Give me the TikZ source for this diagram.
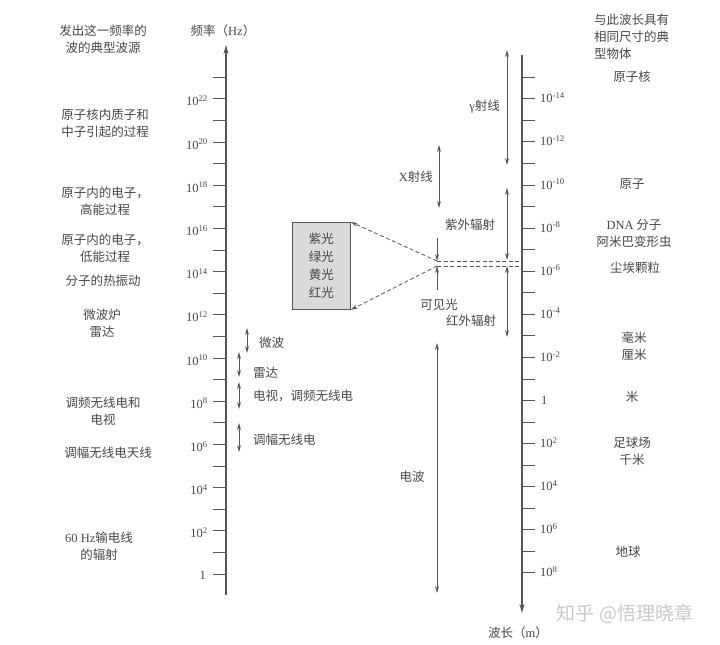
\documentclass[tikz,border=0pt]{standalone}
\usepackage{fontspec}
\setmainfont{Liberation Serif}
\newfontfamily\cjk{Noto Sans CJK SC}
\usetikzlibrary{arrows.meta}
\definecolor{ink}{HTML}{555555}
\definecolor{txt}{HTML}{474747}
\definecolor{boxfill}{HTML}{DADADA}
\definecolor{wm}{HTML}{C8C8C8}
\begin{document}
\begin{tikzpicture}[x=1pt,y=-1pt,
  lbl/.style={font=\cjk\fontsize{12.5}{17}\selectfont, text=txt, inner sep=0pt, align=center},
  lblL/.style={lbl, align=left},
  num/.style={font=\fontsize{12.5}{14}\selectfont, text=txt, inner sep=0pt},
  axisline/.style={draw=ink, line width=1.4pt, -{Stealth[length=9pt,width=5pt]}},
  tickline/.style={draw=ink, line width=0.9pt},
  dbl/.style={draw=ink, line width=0.8pt, {Stealth[length=7pt,width=4pt]}-{Stealth[length=7pt,width=4pt]}},
  sgl/.style={draw=ink, line width=0.8pt, -{Stealth[length=7pt,width=4pt]}},
  dashln/.style={draw=ink, line width=0.8pt, dash pattern=on 4pt off 2.5pt},
  lightbox/.style={draw=ink, line width=0.8pt, fill=boxfill, minimum width=58pt, minimum height=87pt, inner sep=0pt}
]
\useasboundingbox (0,0) rectangle (720,645);

% ---------- left axis (frequency) ----------
\coordinate (fbot) at (226,595);
\coordinate (ftop) at (226,45);
\draw[axisline] (fbot) -- (ftop);
\foreach \n in {0,...,23}
  \draw[tickline] (213,{574-21.6*\n}) -- (226,{574-21.6*\n});
\foreach \n in {2,4,...,22}
  \node[num, anchor=base east] at (208,{574-21.6*\n+7}) {10\textsuperscript{\n}};
\node[num, anchor=base east] (f0) at (206,579) {1};
\node[lbl] (ftitle) at (223,31) {频率（{\rmfamily Hz}）};

% ---------- right axis (wavelength) ----------
\coordinate (wtop) at (522,55);
\coordinate (wbot) at (522,613);
\draw[axisline] (wtop) -- (wbot);
\foreach \m in {-15,...,8}
  \draw[tickline] (522,{400.5+21.55*\m}) -- (535,{400.5+21.55*\m});
\foreach \m in {-14,-12,...,8}{
  \ifnum\m=0
    \node[num, anchor=base west] at (541,{400.5+21.55*\m+4}) {1};
  \else
    \node[num, anchor=base west] at (540,{400.5+21.55*\m+4}) {10\textsuperscript{\m}};
  \fi
}
\node[lbl] (wtitle) at (518,633) {波长（{\rmfamily m}）};

% ---------- left column: sources ----------
\node[lbl] (s0) at (103,39) {发出这一频率的\\波的典型波源};
\node[lbl] (s1) at (105,123) {原子核内质子和\\中子引起的过程};
\node[lbl] (s2) at (105,201) {原子内的电子，\\高能过程};
\node[lbl] (s3) at (105,248) {原子内的电子，\\低能过程};
\node[lbl] (s4) at (103,281) {分子的热振动};
\node[lbl] (s5) at (102,323) {微波炉\\雷达};
\node[lbl] (s6) at (103,411) {调频无线电和\\电视};
\node[lbl] (s7) at (108,453) {调幅无线电天线};
\node[lbl] (s8) at (99,546) {{\rmfamily 60 Hz}输电线\\的辐射};

% ---------- right column: objects ----------
\node[lblL, anchor=north west] (o0) at (594,14) {与此波长具有\\相同尺寸的典\\型物体};
\node[lbl] (o1) at (632,77) {原子核};
\node[lbl] (o2) at (632,184) {原子};
\node[lbl] (o3) at (634,233) {{\rmfamily DNA} 分子\\阿米巴变形虫};
\node[lbl] (o4) at (635,268) {尘埃颗粒};
\node[lbl] (o5) at (634,346) {毫米\\厘米};
\node[lbl] (o6) at (632,397) {米};
\node[lbl] (o7) at (632,451) {足球场\\千米};
\node[lbl] (o8) at (628,552) {地球};

% ---------- small bands near frequency axis ----------
\coordinate (mw1) at (247,328); \coordinate (mw2) at (247,353);
\draw[dbl] (mw1) -- (mw2);
\node[lbl, anchor=west] (mwl) at (259,343) {微波};
\coordinate (rd1) at (239,352); \coordinate (rd2) at (239,377);
\draw[dbl] (rd1) -- (rd2);
\node[lbl, anchor=west] (rdl) at (253,373) {雷达};
\coordinate (tv1) at (239,382); \coordinate (tv2) at (239,409);
\draw[dbl] (tv1) -- (tv2);
\node[lbl, anchor=west] (tvl) at (253,396) {电视，调频无线电};
\coordinate (am1) at (239,423); \coordinate (am2) at (239,452);
\draw[dbl] (am1) -- (am2);
\node[lbl, anchor=west] (aml) at (253,440) {调幅无线电};

% ---------- bands near wavelength axis ----------
\coordinate (ga1) at (507,50); \coordinate (ga2) at (507,165);
\draw[dbl] (ga1) -- (ga2);
\node[lbl, anchor=east] (gal) at (500,107) {{\rmfamily γ}射线};

\coordinate (xr1) at (439,145); \coordinate (xr2) at (439,208);
\draw[dbl] (xr1) -- (xr2);
\node[lbl, anchor=east] (xrl) at (433,177) {{\rmfamily X}射线};

\coordinate (uv1) at (507,188); \coordinate (uv2) at (507,260);
\draw[dbl] (uv1) -- (uv2);
\node[lbl] (uvl) at (470,225) {紫外辐射};

\coordinate (ir1) at (507,266); \coordinate (ir2) at (507,337);
\draw[dbl] (ir1) -- (ir2);
\node[lbl] (irl) at (471,321) {红外辐射};

\coordinate (rw1) at (437,343); \coordinate (rw2) at (437,593);
\draw[dbl] (rw1) -- (rw2);
\node[lbl] (rwl) at (412,477) {电波};

% visible light
\coordinate (vA) at (437,261);
\coordinate (vB) at (437,266);
\coordinate (vAe) at (522,261);
\coordinate (vBe) at (522,266);
\coordinate (vAs) at (437,238);
\coordinate (vBs) at (437,290);
\draw[sgl] (vAs) -- (vA);
\draw[sgl] (vBs) -- (vB);
\draw[dashln] (vA) -- (vAe);
\draw[dashln] (vB) -- (vBe);
\node[lbl] (vl) at (439,305) {可见光};

% colour box
\node[lightbox, anchor=north west] (cbox) at (292,222) {};
\node[lbl, font=\cjk\fontsize{12.5}{18}\selectfont] (ctext) at (cbox.center) {紫光\\绿光\\黄光\\红光};
\draw[dashln, -{Stealth[length=7pt,width=4pt]}] (vA) -- (cbox.north east);
\draw[dashln, -{Stealth[length=7pt,width=4pt]}] (vB) -- (cbox.south east);

% watermark
\node[font=\cjk\fontsize{19}{20}\selectfont, text=wm, inner sep=0pt] (wmk) at (625,614) {知乎 @悟理晓章};
\end{tikzpicture}
\end{document}
